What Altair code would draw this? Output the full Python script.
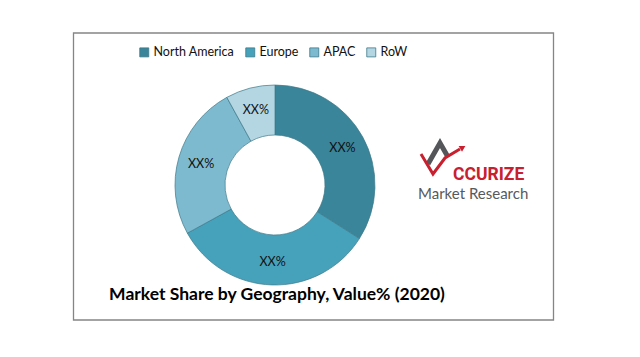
import altair as alt
import pandas as pd

# ---- data ----
regions = ["North America", "Europe", "APAC", "RoW"]
shares = [34, 33, 25, 8]
labels = ["XX%", "XX%", "XX%", "XX%"]
colors = ["#3a8599", "#46a2ba", "#7dbad0", "#b4d6e2"]
title_text = "Market Share by Geography, Value% (2020)"
logo_word = "CCURIZE"
logo_sub = "Market Research"

df = pd.DataFrame({"region": regions, "share": shares, "label": labels,
                   "idx": list(range(len(regions)))})

CX, CY = 267, 177
W, H = 624, 341

one = pd.DataFrame({"a": [0]})

frame = alt.Chart(one).mark_rect(fill=None, stroke="#858585", strokeWidth=1.3).encode(
    x=alt.value(65.5), x2=alt.value(545.5), y=alt.value(25), y2=alt.value(312)
)

color_scale = alt.Scale(domain=regions, range=colors)

arcs = alt.Chart(df).mark_arc(innerRadius=50, outerRadius=100,
                             stroke="#3d7a8a", strokeWidth=0.7).encode(
    theta=alt.Theta("share:Q", stack=True),
    order=alt.Order("idx:Q"),
    color=alt.Color("region:N", scale=color_scale, sort=regions,
                    legend=alt.Legend(orient="none", legendX=130, legendY=38,
                                      direction="horizontal", title=None,
                                      symbolType="square", symbolSize=81,
                                      symbolStrokeColor="#3d7a8a",
                                      symbolStrokeWidth=0.8,
                                      labelFont="Lato", labelFontSize=12.5,
                                      labelColor="#111111",
                                      columnPadding=9, labelOffset=3)),
    x=alt.value(CX), y=alt.value(CY),
)

texts = alt.Chart(df).mark_text(radius=77, font="Lato", fontSize=12.5,
                               color="#111111").encode(
    theta=alt.Theta("share:Q", stack=True),
    order=alt.Order("idx:Q"),
    text="label:N",
    x=alt.value(CX), y=alt.value(CY),
)

title = alt.Chart(one).mark_text(text=title_text, font="Lato", fontSize=17.5,
                                 fontWeight="bold", color="#000000",
                                 align="center", baseline="middle").encode(
    x=alt.value(269), y=alt.value(287)
)

# logo
logo_gray = pd.DataFrame({"x": [420, 432, 440], "y": [156, 135, 149], "o": [0, 1, 2]})
logo_red = pd.DataFrame({"x": [413, 425, 437, 452], "y": [146, 166, 150, 141], "o": [0, 1, 2, 3]})

gray_line = alt.Chart(logo_gray).mark_line(color="#55565a", strokeWidth=5,
                                           strokeJoin="miter").encode(
    x=alt.X("x:Q", scale=None), y=alt.Y("y:Q", scale=None), order="o:Q"
)
red_line = alt.Chart(logo_red).mark_line(color="#c8202f", strokeWidth=3,
                                         strokeJoin="miter").encode(
    x=alt.X("x:Q", scale=None), y=alt.Y("y:Q", scale=None), order="o:Q"
)
arrow = alt.Chart(one).mark_point(shape="triangle", filled=True, color="#c8202f",
                                  size=45, angle=60, opacity=1).encode(
    x=alt.value(454), y=alt.value(140)
)
word = alt.Chart(one).mark_text(text=logo_word, font="Roboto",
                                fontSize=17.5, fontWeight="bold", color="#c8202f",
                                align="left", baseline="alphabetic").encode(
    x=alt.value(445), y=alt.value(172)
)
sub = alt.Chart(one).mark_text(text=logo_sub, font="Lato", fontSize=15,
                               color="#58595b", align="left",
                               baseline="alphabetic").encode(
    x=alt.value(410), y=alt.value(191)
)

chart = alt.layer(frame, arcs, texts, title, gray_line, red_line, arrow, word, sub).properties(
    width=W, height=H,
    autosize=alt.AutoSizeParams(type="none"),
    padding=0,
).configure_view(stroke=None)

chart.save("out.html", embed_options={"renderer": "svg", "actions": False})
